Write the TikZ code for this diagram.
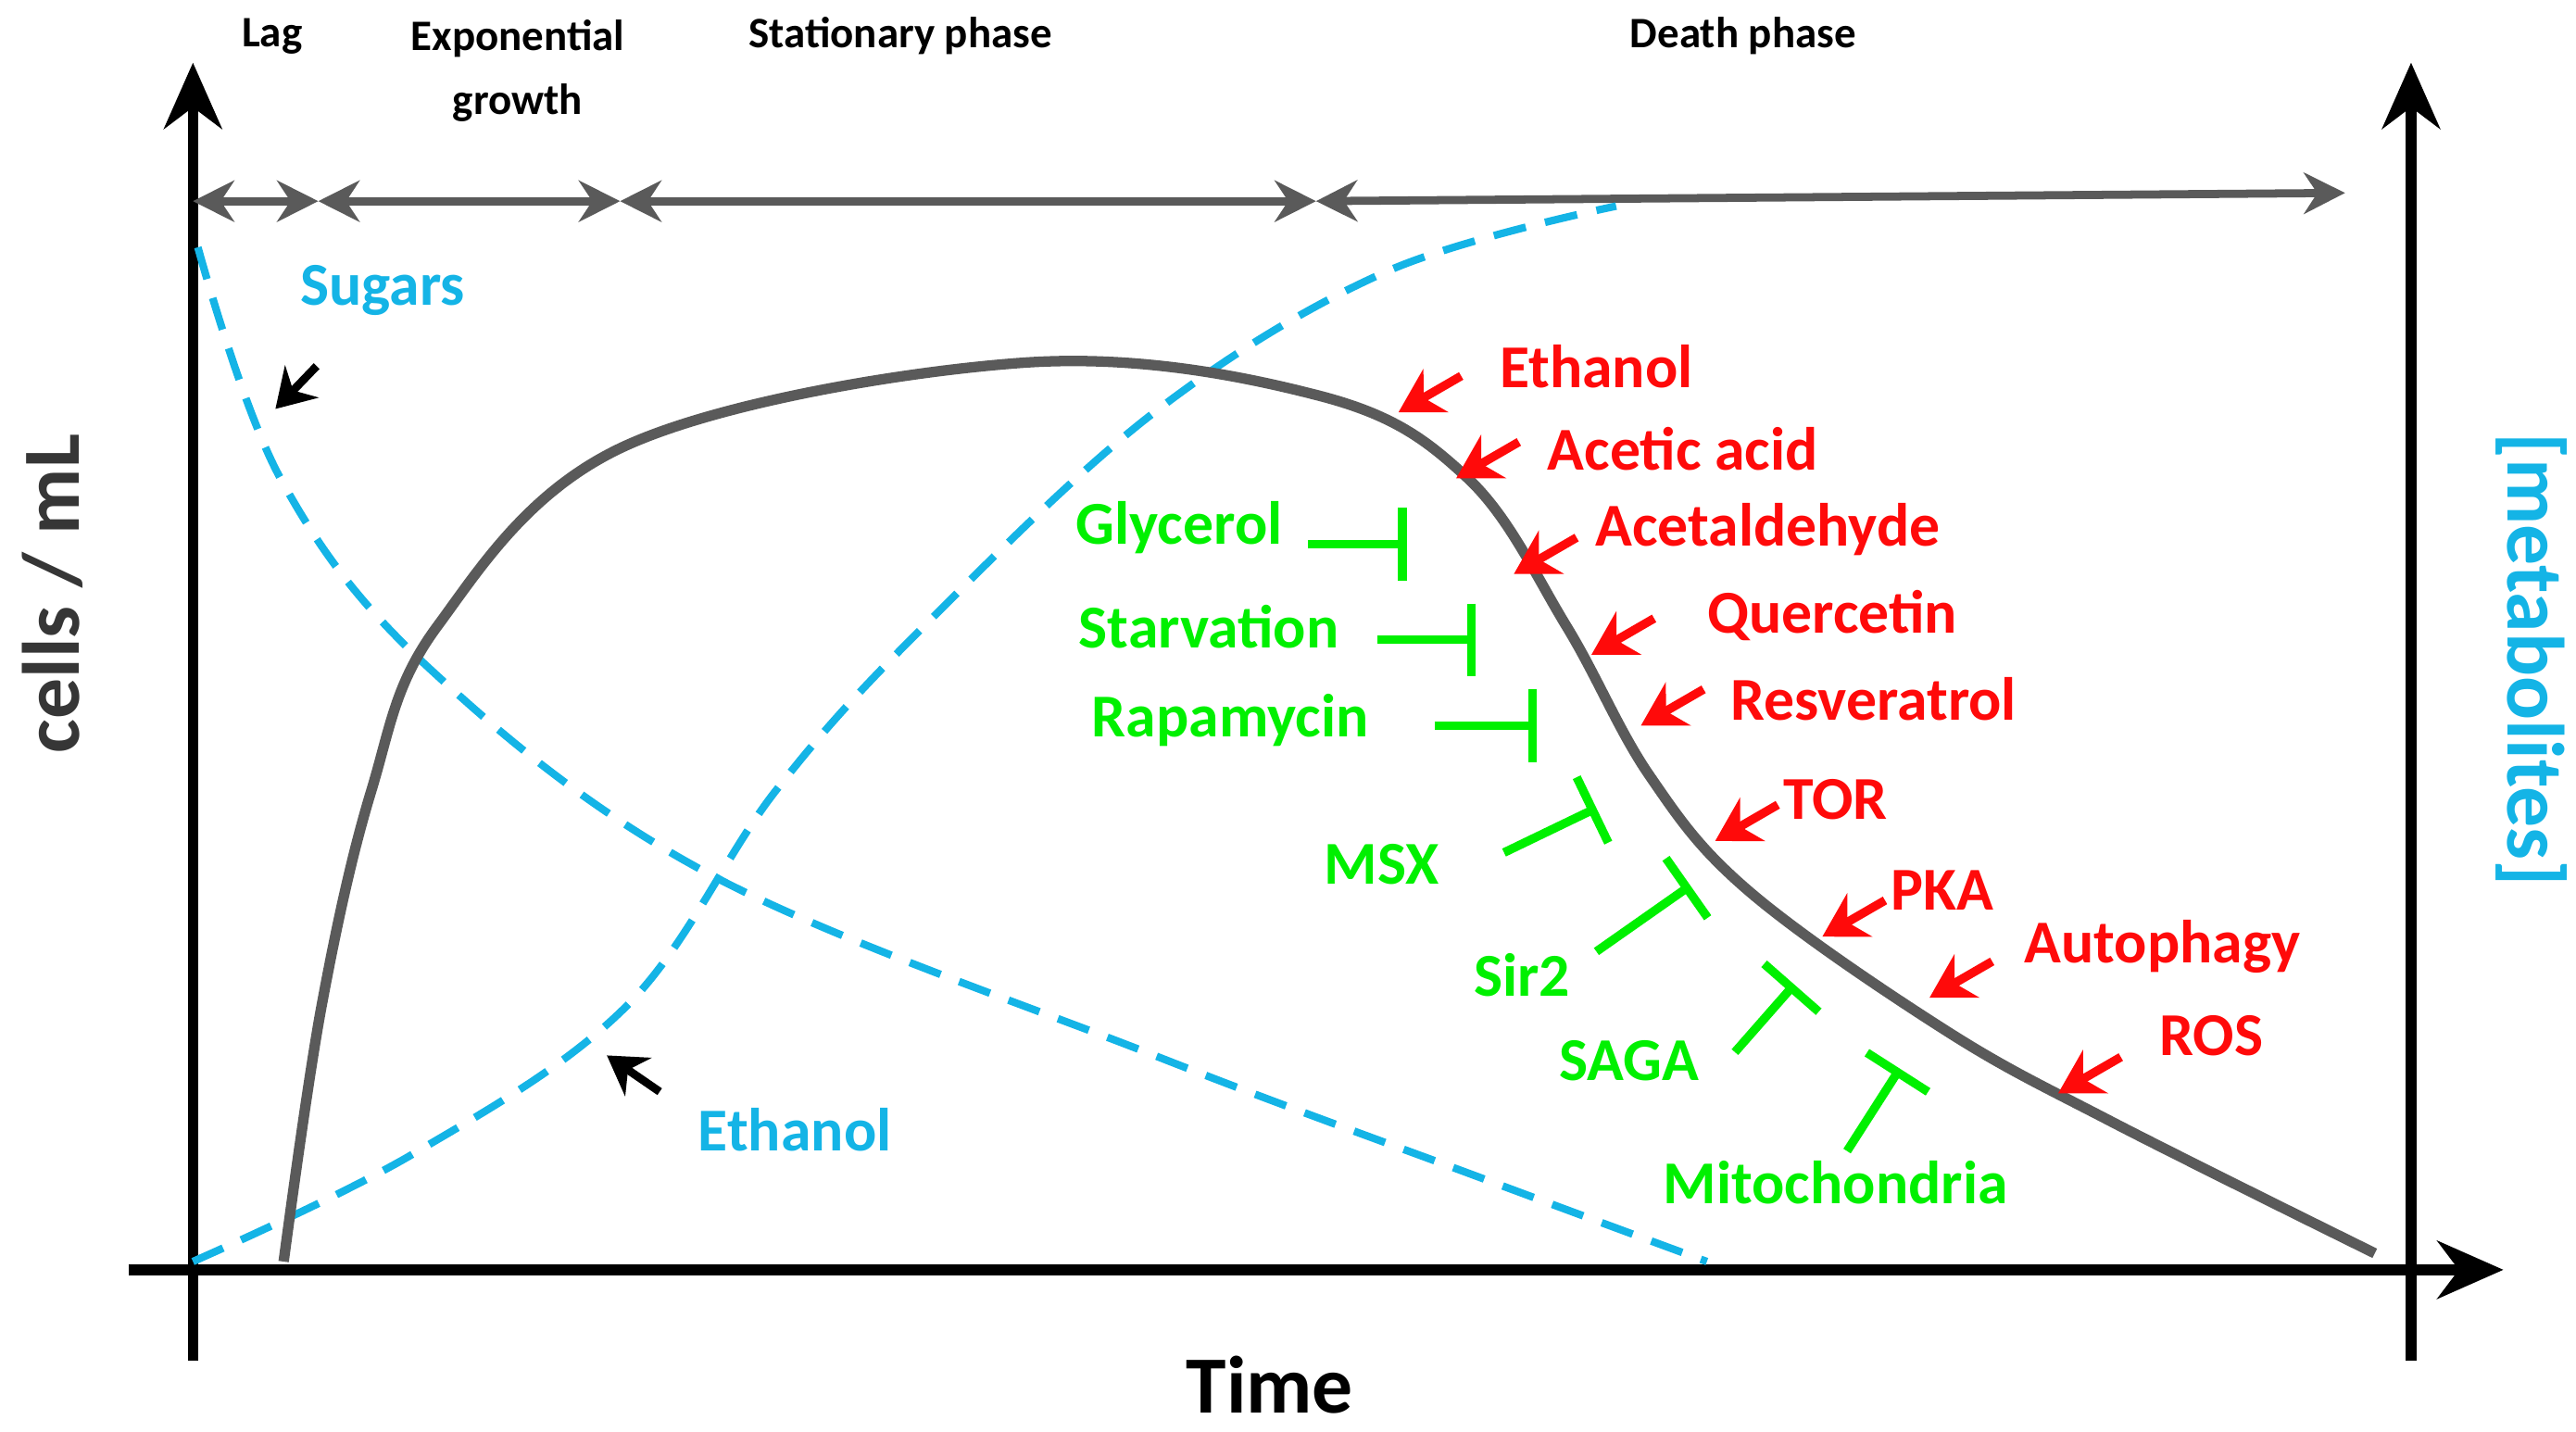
\documentclass[tikz,border=0pt]{standalone}
\usepackage{fontspec}
\setmainfont{Carlito}
\usetikzlibrary{arrows.meta,calc}
\definecolor{cy}{RGB}{20,180,230}
\definecolor{gr}{RGB}{0,240,0}
\definecolor{rd}{RGB}{255,10,10}
\definecolor{gy}{RGB}{90,90,90}
\begin{document}
\begin{tikzpicture}[x=0.01cm,y=-0.01cm,
 ax/.style={line width=1.8pt,-{Stealth[length=4mm,width=3.5mm]}},
 ph/.style={line width=1.4pt,gy,{Stealth[length=2.5mm,width=2.5mm]}-{Stealth[length=2.5mm,width=2.5mm]}},
 cdash/.style={cy,line width=1.3pt,dash pattern=on 0.2cm off 0.12cm},
 rl/.style={rd,font=\fontsize{10.5}{12}\bfseries\selectfont,anchor=west},
 gl/.style={gr,font=\fontsize{10.5}{12}\bfseries\selectfont},
 ra/.style={rd,line width=1.5pt,-{Stealth[length=2.6mm,width=3mm]}},
 inh/.style={gr,line width=1.5pt,-{Bar[width=4.4mm]}},
 top/.style={font=\fontsize{7.5}{9}\bfseries\selectfont,align=center}]
\useasboundingbox (0,0) rectangle (1562,868);
% axes
\coordinate (yb) at (117,825); \coordinate (yt) at (117,38);
\coordinate (xl) at (78,770); \coordinate (xr) at (1518,770);
\coordinate (rb) at (1462,825); \coordinate (rt) at (1462,38);
\draw[ax] (yb) -- (yt);
\draw[ax] (xl) -- (xr);
\draw[ax] (rb) -- (rt);
% phases
\coordinate (p0) at (117,122); \coordinate (p1) at (193,122);
\coordinate (p2) at (376,122); \coordinate (p3) at (798,122);
\coordinate (p4) at (1422,117);
\draw[ph] (p0)--(p1); \draw[ph] (p1)--(p2); \draw[ph] (p2)--(p3); \draw[ph] (p3)--(p4);
\node[top] (lag) at (165,22) {Lag};
\node[top] (exp) at (314,43) {Exponential\\[2pt]growth};
\node[top] (sta) at (546,22) {Stationary phase};
\node[top] (dea) at (1057,22) {Death phase};
\node[rotate=90,font=\fontsize{14}{16}\bfseries\selectfont,gy!60!black] (cm) at (32,360) {cells / mL};
\node[rotate=-90,font=\fontsize{14}{16}\bfseries\selectfont,cy] (met) at (1535,400) {[metabolites]};
\node[font=\fontsize{14}{16}\bfseries\selectfont] (time) at (770,840) {Time};
% curves
\draw[cdash] plot[smooth,tension=0.6] coordinates {(120,150) (170,290) (260,405) (430,530) (700,640) (900,715) (1035,765)};
\draw[cdash] plot[smooth,tension=0.6] coordinates {(117,765) (250,700) (380,610) (470,480) (560,380) (700,250) (840,165) (980,125)};
\draw[gy,line width=1.8pt] plot[smooth,tension=0.6] coordinates {(172,765) (195,610) (225,480) (265,380) (380,270) (620,220) (800,240) (890,290) (950,380) (1000,470) (1060,540) (1180,625) (1280,680) (1440,760)};
% cyan labels
\node[cy,font=\fontsize{10.5}{12}\bfseries\selectfont] (sug) at (232,176) {Sugars};
\coordinate (sa) at (192,222); \coordinate (sb) at (167,248);
\draw[line width=1.4pt,-{Stealth[length=2.3mm,width=2.8mm]}] (sa)--(sb);
\node[cy,font=\fontsize{10.5}{12}\bfseries\selectfont] (eth) at (482,685) {Ethanol};
\coordinate (ea) at (400,662); \coordinate (eb) at (368,640);
\draw[line width=1.4pt,-{Stealth[length=2.3mm,width=2.8mm]}] (ea)--(eb);
% red labels
\foreach \n/\t/\lx/\ly/\tx/\ty in {r1/Ethanol/897/222/848/250, r2/Acetic acid/926/272/883/290, r3/Acetaldehyde/955/321/918/348, r4/Quercetin/1023/373/965/397, r5/Resveratrol/1037/424/995/440, r6/TOR/1069/485/1040/510, r7/PKA/1134/540/1105/568, r8/Autophagy/1215/574/1170/605, r9/ROS/1297/628/1248/663}{
 \node[rl] (\n) at (\lx,\ly) {\t};
 \coordinate (\n t) at (\tx,\ty);
 \draw[ra] ($(\n t)+(38,-22)$) -- (\n t);
}
% green labels
\node[gl] (g1) at (715,320) {Glycerol};
\coordinate (g1a) at (793,330); \coordinate (g1b) at (853,330);
\draw[inh] (g1a)--(g1b);
\node[gl] (g2) at (733,380) {Starvation};
\coordinate (g2a) at (835,388); \coordinate (g2b) at (895,388);
\draw[inh] (g2a)--(g2b);
\node[gl] (g3) at (746,437) {Rapamycin};
\coordinate (g3a) at (870,440); \coordinate (g3b) at (932,440);
\draw[inh] (g3a)--(g3b);
\node[gl] (g4) at (838,524) {MSX};
\coordinate (g4a) at (912,517); \coordinate (g4b) at (968,490);
\draw[inh] (g4a)--(g4b);
\node[gl] (g5) at (923,591) {Sir2};
\coordinate (g5a) at (968,577); \coordinate (g5b) at (1025,537);
\draw[inh] (g5a)--(g5b);
\node[gl] (g6) at (988,643) {SAGA};
\coordinate (g6a) at (1052,638); \coordinate (g6b) at (1088,597);
\draw[inh] (g6a)--(g6b);
\node[gl] (g7) at (1113,717) {Mitochondria};
\coordinate (g7a) at (1120,698); \coordinate (g7b) at (1152,648);
\draw[inh] (g7a)--(g7b);
\end{tikzpicture}
\end{document}
